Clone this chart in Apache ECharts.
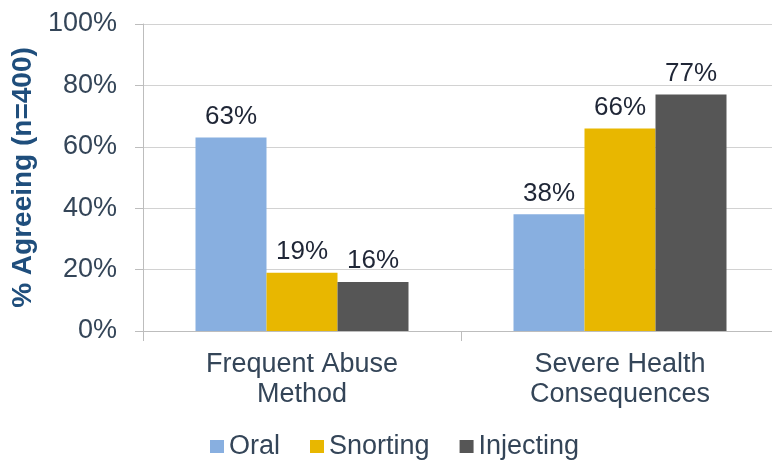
<!DOCTYPE html>
<html>
<head>
<meta charset="utf-8">
<script src="https://cdn.jsdelivr.net/npm/echarts@6/dist/echarts.min.js"></script>
<style>
  html, body { margin: 0; padding: 0; background: #ffffff; }
  #chart { width: 772px; height: 465px; }
</style>
</head>
<body>
<div id="chart"></div>
<script>
// Share of respondents agreeing, by abuse route
const categories = ['Frequent Abuse\nMethod', 'Severe Health\nConsequences'];
const seriesNames = ['Oral', 'Snorting', 'Injecting'];
const oralValues = [63, 38];
const snortingValues = [19, 66];
const injectingValues = [16, 77];
const yTicks = [0, 20, 40, 60, 80, 100];

const colors = ['#88afe0', '#e8b700', '#565656'];
const FONT = 'Liberation Sans, Arial, sans-serif';

function barSeries(name, data, color) {
  return {
    name: name,
    type: 'bar',
    data: data,
    barWidth: 71,
    barGap: '0%',
    itemStyle: { color: color },
    label: {
      show: true,
      position: 'top',
      distance: 8,
      formatter: '{c}%',
      fontFamily: FONT,
      fontSize: 26,
      color: '#1f2636'
    }
  };
}

const chart = echarts.init(document.getElementById('chart'), null, { renderer: 'canvas' });
chart.setOption({
  animation: false,
  backgroundColor: '#ffffff',
  textStyle: { fontFamily: FONT },
  grid: {
    left: 143,
    right: -7,
    top: 24,
    bottom: 134,
    containLabel: false,
    outerBoundsMode: 'none'
  },
  legend: {
    data: seriesNames,
    left: 210,
    top: 433,
    padding: 0,
    icon: 'rect',
    itemWidth: 14,
    itemHeight: 13,
    itemGap: 30,
    textStyle: { fontFamily: FONT, fontSize: 27, color: '#344558' }
  },
  xAxis: {
    type: 'category',
    data: categories,
    axisLine: { show: true, lineStyle: { color: '#bdbdbd', width: 1 } },
    axisTick: { show: true, alignWithLabel: false, length: 10, lineStyle: { color: '#bdbdbd' } },
    axisLabel: {
      fontFamily: FONT,
      fontSize: 27,
      lineHeight: 30,
      margin: 19,
      color: '#344558'
    }
  },
  yAxis: {
    type: 'value',
    min: yTicks[0],
    max: yTicks[yTicks.length - 1],
    interval: 20,
    name: '% Agreeing (n=400)',
    nameLocation: 'middle',
    nameRotate: 90,
    nameGap: 104,
    nameTextStyle: {
      fontFamily: FONT,
      fontSize: 28,
      fontWeight: 'bold',
      color: '#1f4e7c'
    },
    axisLine: { show: true, lineStyle: { color: '#bdbdbd', width: 1 } },
    axisTick: { show: true, inside: false, length: 8, lineStyle: { color: '#bdbdbd' } },
    splitLine: { show: true, lineStyle: { color: '#d2d2d2', width: 1 } },
    axisLabel: {
      fontFamily: FONT,
      fontSize: 27,
      margin: 26,
      color: '#344558',
      formatter: '{value}%'
    }
  },
  series: [
    barSeries(seriesNames[0], oralValues, colors[0]),
    barSeries(seriesNames[1], snortingValues, colors[1]),
    barSeries(seriesNames[2], injectingValues, colors[2])
  ]
});
</script>
</body>
</html>
